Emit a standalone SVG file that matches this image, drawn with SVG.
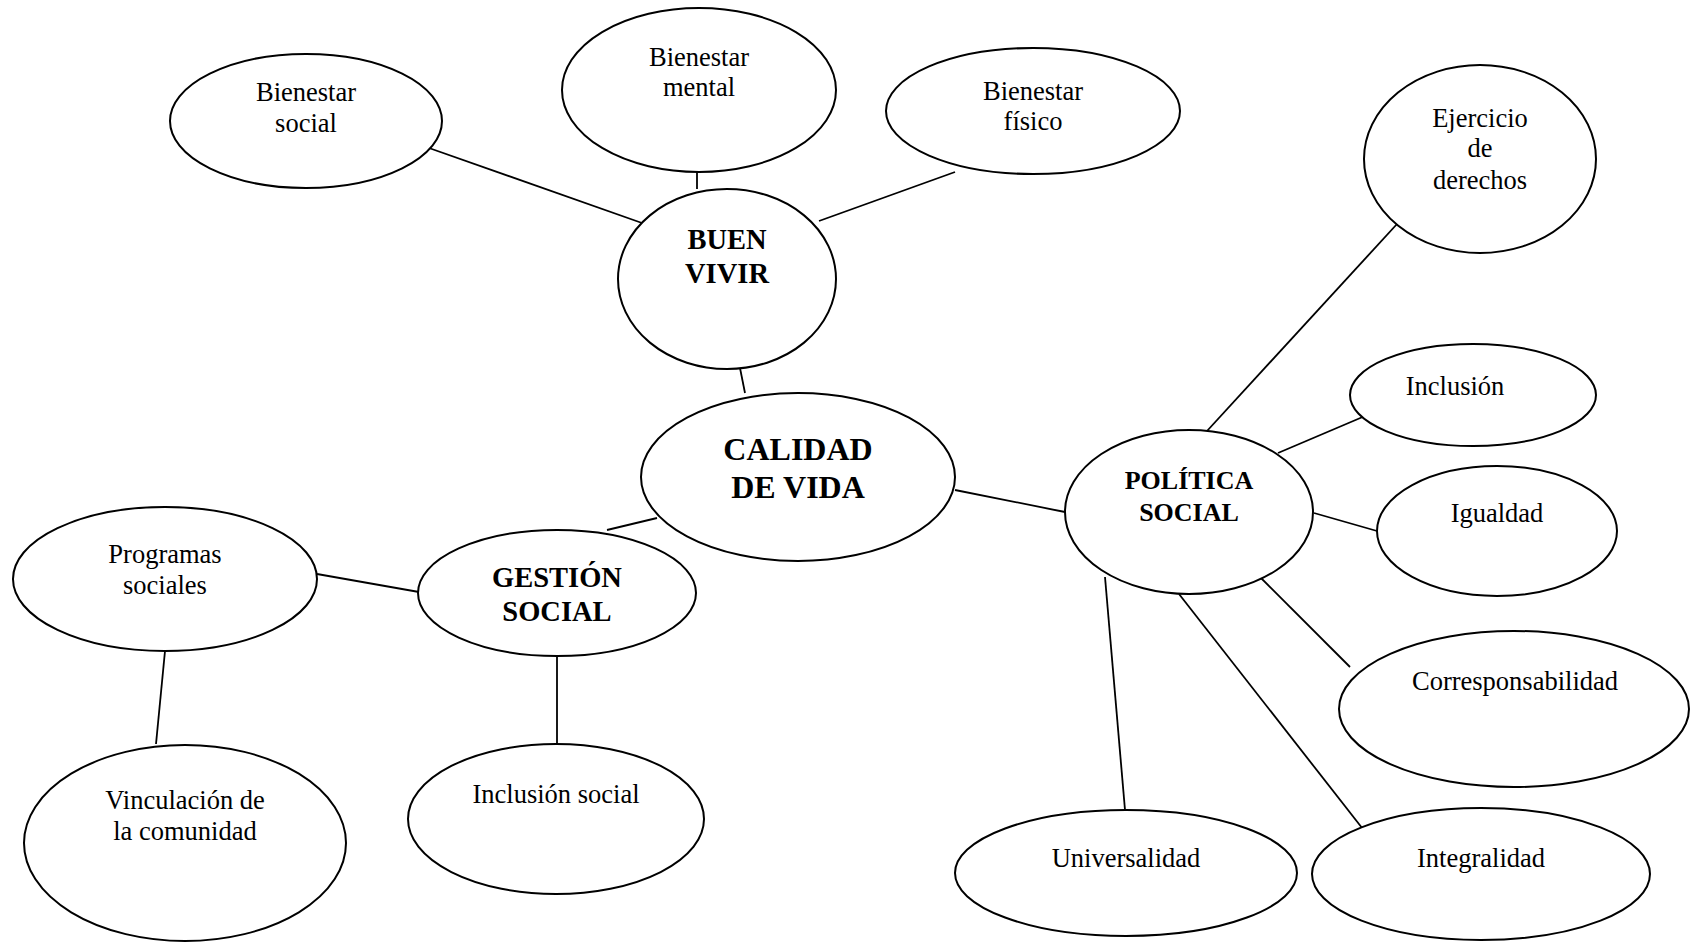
<svg xmlns="http://www.w3.org/2000/svg" width="1690" height="942" viewBox="0 0 1690 942">
<style>
.n{fill:#fff;stroke:#000;stroke-width:2}
.c line{stroke:#000;stroke-width:1.8}
text{font-family:"Liberation Serif","Times New Roman",serif;fill:#000;text-anchor:middle}
.t{font-size:26.5px}
.b{font-weight:bold;font-size:28.5px}
.bl{font-weight:bold;font-size:32px}
.bm{font-weight:bold;font-size:26px}
</style>
<rect width="1690" height="942" fill="#fff"/>
<g class="c" id="connectors">
<line x1="429" y1="148" x2="642" y2="223"/>
<line x1="697" y1="158" x2="697" y2="189"/>
<line x1="955" y1="172" x2="819" y2="221"/>
<line x1="734" y1="338" x2="745" y2="393"/>
<line x1="657" y1="518" x2="607" y2="530"/>
<line x1="955" y1="490" x2="1065" y2="512"/>
<line x1="1397" y1="224" x2="1207" y2="431"/>
<line x1="1278" y1="453" x2="1365" y2="416"/>
<line x1="1314" y1="513" x2="1377" y2="531"/>
<line x1="1259" y1="576" x2="1350" y2="667"/>
<line x1="1179" y1="594" x2="1366" y2="833"/>
<line x1="1105" y1="577" x2="1125" y2="810"/>
<line x1="317" y1="574" x2="419" y2="592"/>
<line x1="165" y1="651" x2="156" y2="744"/>
<line x1="557" y1="655" x2="557" y2="744"/>
</g>
<g id="bienestar-social"><ellipse class="n" cx="306" cy="121" rx="136" ry="67"/><text class="t" x="306" y="101">Bienestar</text><text class="t" x="306" y="132">social</text></g>
<g id="bienestar-mental"><ellipse class="n" cx="699" cy="90" rx="137" ry="82"/><text class="t" x="699" y="66">Bienestar</text><text class="t" x="699" y="96">mental</text></g>
<g id="bienestar-fisico"><ellipse class="n" cx="1033" cy="111" rx="147" ry="63"/><text class="t" x="1033" y="100">Bienestar</text><text class="t" x="1033" y="130">físico</text></g>
<g id="buen-vivir"><ellipse class="n" cx="727" cy="279" rx="109" ry="90"/><text class="b" x="727" y="249">BUEN</text><text class="b" x="727" y="283">VIVIR</text></g>
<g id="ejercicio"><ellipse class="n" cx="1480" cy="159" rx="116" ry="94"/><text class="t" x="1480" y="127">Ejercicio</text><text class="t" x="1480" y="157">de</text><text class="t" x="1480" y="189">derechos</text></g>
<g id="inclusion"><ellipse class="n" cx="1473" cy="395" rx="123" ry="51"/><text class="t" x="1455" y="395">Inclusión</text></g>
<g id="calidad"><ellipse class="n" cx="798" cy="477" rx="157" ry="84"/><text class="bl" x="798" y="460">CALIDAD</text><text class="bl" x="798" y="498">DE VIDA</text></g>
<g id="politica"><ellipse class="n" cx="1189" cy="512" rx="124" ry="82"/><text class="bm" x="1189" y="489">POLÍTICA</text><text class="bm" x="1189" y="521">SOCIAL</text></g>
<g id="igualdad"><ellipse class="n" cx="1497" cy="531" rx="120" ry="65"/><text class="t" x="1497" y="522">Igualdad</text></g>
<g id="programas"><ellipse class="n" cx="165" cy="579" rx="152" ry="72"/><text class="t" x="165" y="563">Programas</text><text class="t" x="165" y="594">sociales</text></g>
<g id="gestion"><ellipse class="n" cx="557" cy="593" rx="139" ry="63"/><text class="b" x="557" y="587">GESTIÓN</text><text class="b" x="557" y="621">SOCIAL</text></g>
<g id="corresponsabilidad"><ellipse class="n" cx="1514" cy="709" rx="175" ry="78"/><text class="t" x="1515" y="690">Corresponsabilidad</text></g>
<g id="vinculacion"><ellipse class="n" cx="185" cy="843" rx="161" ry="98"/><text class="t" x="185" y="809">Vinculación de</text><text class="t" x="185" y="840">la comunidad</text></g>
<g id="inclusion-social"><ellipse class="n" cx="556" cy="819" rx="148" ry="75"/><text class="t" x="556" y="803">Inclusión social</text></g>
<g id="universalidad"><ellipse class="n" cx="1126" cy="873" rx="171" ry="63"/><text class="t" x="1126" y="867">Universalidad</text></g>
<g id="integralidad"><ellipse class="n" cx="1481" cy="874" rx="169" ry="66"/><text class="t" x="1481" y="867">Integralidad</text></g>
</svg>
